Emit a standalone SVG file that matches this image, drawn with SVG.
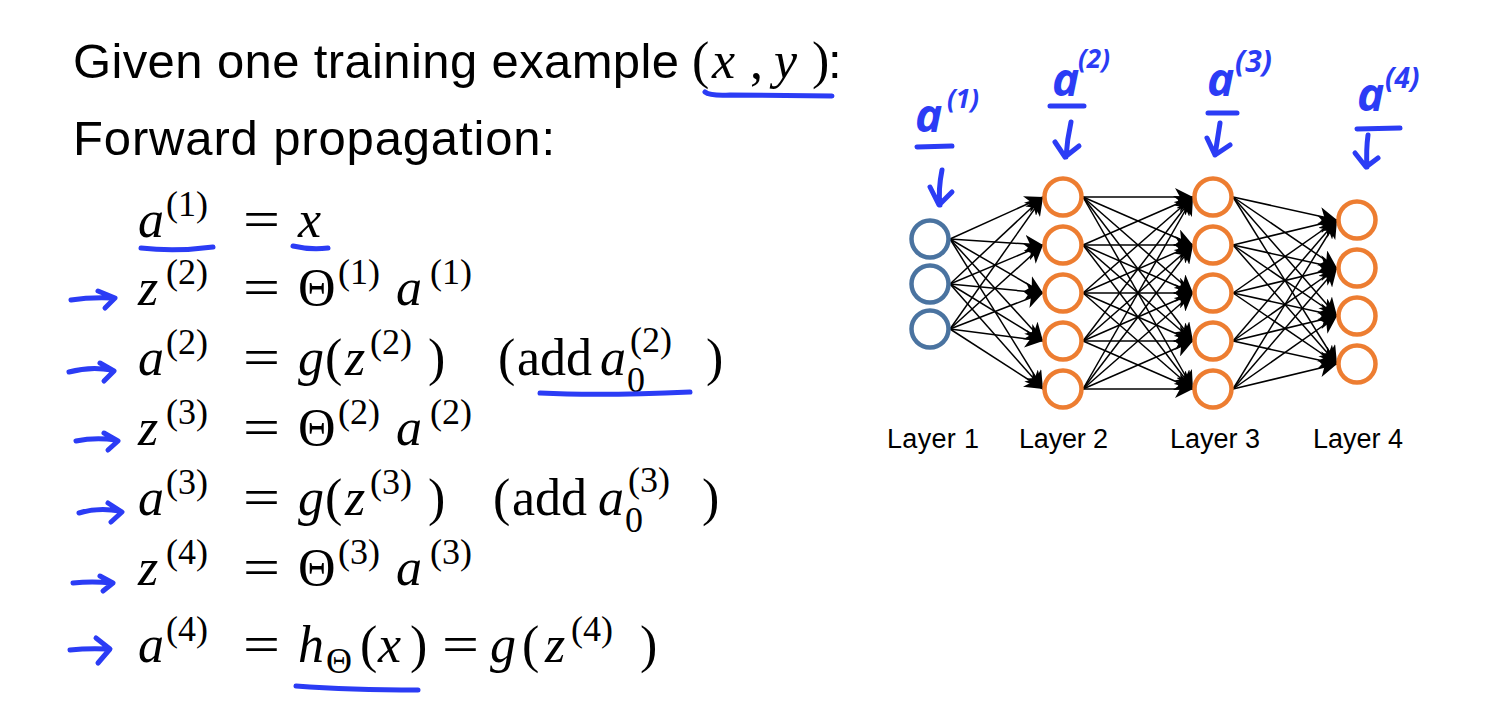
<svg xmlns="http://www.w3.org/2000/svg" width="1499" height="716" viewBox="0 0 1499 716">
<defs>
<style>
.t{font-family:"Liberation Sans",Arial,sans-serif;font-size:49px;fill:#000}
.lab{font-family:"Liberation Sans",Arial,sans-serif;font-size:27px;fill:#000}
.mi{font-family:"Liberation Serif","Times New Roman",serif;font-style:italic;font-size:52px;fill:#000}
.mr{font-family:"Liberation Serif","Times New Roman",serif;font-size:52px;fill:#000}
.sp{font-family:"Liberation Serif","Times New Roman",serif;font-size:36px;fill:#000}
.ink{fill:none;stroke:#2b3cf5;stroke-width:5;stroke-linecap:round;stroke-linejoin:round}
.hw{font-family:"Open Sans",sans-serif;font-style:italic;font-weight:bold;fill:#2b3cf5}
.in{fill:#fff;stroke:#4a73a0;stroke-width:4.5}
.hid{fill:#fff;stroke:#ed7d31;stroke-width:4.5}
.e{stroke:#000;stroke-width:1.5;marker-end:url(#ah)}
</style>
<marker id="ah" markerUnits="userSpaceOnUse" markerWidth="20" markerHeight="18" refX="18" refY="9" orient="auto">
<path d="M0,0 L18,9 L0,18 L5,9 Z" fill="#000"/>
</marker>
</defs>
<rect width="1499" height="716" fill="#fff"/>

<g id="title">
<text class="t" x="73" y="78" textLength="606">Given one training example</text>
<text class="mr" x="692" y="78">(</text>
<text class="mi" x="712" y="78">x</text>
<text class="mr" x="750" y="78">,</text>
<text class="mi" x="774" y="78">y</text>
<text class="mr" x="812" y="78">)</text>
<text class="t" x="828" y="78">:</text>
<path class="ink" d="M705,92 Q710,96 730,95 L832,96"/>
</g>
<g id="subtitle">
<text class="t" x="73" y="155" textLength="482">Forward propagation:</text>
</g>

<g id="equations">
<g id="eq1">
<text class="mi" x="138" y="237">a</text><text class="sp" x="166" y="216">(1)</text>
<text class="mr" x="243" y="237" textLength="37" lengthAdjust="spacingAndGlyphs">=</text>
<text class="mi" x="298" y="237">x</text>
<path class="ink" d="M141,248 Q175,252 213,247"/>
<path class="ink" d="M293,246 Q310,250 328,248"/>
</g>
<g id="eq2">
<path class="ink" d="M71,300 Q90,297 113,298 M98,291 L115,298 L105,308"/>
<text class="mi" x="138" y="305">z</text><text class="sp" x="166" y="284">(2)</text>
<text class="mr" x="243" y="305" textLength="37" lengthAdjust="spacingAndGlyphs">=</text>
<text class="mr" x="298" y="305">Θ</text><text class="sp" x="338" y="284">(1)</text>
<text class="mi" x="396" y="305">a</text><text class="sp" x="430" y="284">(1)</text>
</g>
<g id="eq3">
<path class="ink" d="M69,372 Q90,366 112,370 M100,363 L114,371 L104,381"/>
<text class="mi" x="138" y="375">a</text><text class="sp" x="166" y="354">(2)</text>
<text class="mr" x="243" y="375" textLength="37" lengthAdjust="spacingAndGlyphs">=</text>
<text class="mi" x="298" y="375">g</text><text class="mr" x="325" y="375">(</text>
<text class="mi" x="345" y="375">z</text><text class="sp" x="370" y="354">(2)</text>
<text class="mr" x="428" y="375">)</text>
<text class="mr" x="498" y="375">(</text><text class="mr" x="517" y="375">add</text>
<text class="mi" x="600" y="375">a</text><text class="sp" x="630" y="352">(2)</text><text class="sp" x="627" y="392">0</text>
<text class="mr" x="706" y="375">)</text>
<path class="ink" d="M540,393 Q600,396 690,392"/>
</g>
<g id="eq4">
<path class="ink" d="M76,441 Q95,437 116,440 M104,433 L118,441 L108,450"/>
<text class="mi" x="138" y="445">z</text><text class="sp" x="166" y="424">(3)</text>
<text class="mr" x="243" y="445" textLength="37" lengthAdjust="spacingAndGlyphs">=</text>
<text class="mr" x="298" y="445">Θ</text><text class="sp" x="338" y="424">(2)</text>
<text class="mi" x="396" y="445">a</text><text class="sp" x="430" y="424">(2)</text>
</g>
<g id="eq5">
<path class="ink" d="M79,513 Q98,507 120,511 M108,503 L122,512 L111,522"/>
<text class="mi" x="138" y="515">a</text><text class="sp" x="166" y="494">(3)</text>
<text class="mr" x="243" y="515" textLength="37" lengthAdjust="spacingAndGlyphs">=</text>
<text class="mi" x="298" y="515">g</text><text class="mr" x="325" y="515">(</text>
<text class="mi" x="345" y="515">z</text><text class="sp" x="370" y="494">(3)</text>
<text class="mr" x="428" y="515">)</text>
<text class="mr" x="493" y="515">(</text><text class="mr" x="512" y="515">add</text>
<text class="mi" x="598" y="515">a</text><text class="sp" x="628" y="492">(3)</text><text class="sp" x="625" y="532">0</text>
<text class="mr" x="702" y="515">)</text>
</g>
<g id="eq6">
<path class="ink" d="M73,583 Q92,581 112,583 M100,576 L113,583 L103,591"/>
<text class="mi" x="138" y="585">z</text><text class="sp" x="166" y="564">(4)</text>
<text class="mr" x="243" y="585" textLength="37" lengthAdjust="spacingAndGlyphs">=</text>
<text class="mr" x="298" y="585">Θ</text><text class="sp" x="338" y="564">(3)</text>
<text class="mi" x="396" y="585">a</text><text class="sp" x="430" y="564">(3)</text>
</g>
<g id="eq7">
<path class="ink" d="M70,650 Q88,648 108,649 M96,638 L110,649 L98,663"/>
<text class="mi" x="138" y="662">a</text><text class="sp" x="166" y="641">(4)</text>
<text class="mr" x="243" y="662" textLength="37" lengthAdjust="spacingAndGlyphs">=</text>
<text class="mi" x="298" y="662">h</text><text class="sp" x="326" y="673">Θ</text>
<text class="mr" x="360" y="662">(</text><text class="mi" x="378" y="662">x</text><text class="mr" x="410" y="662">)</text>
<text class="mr" x="442" y="662" textLength="37" lengthAdjust="spacingAndGlyphs">=</text>
<text class="mi" x="490" y="662">g</text><text class="mr" x="522" y="662">(</text>
<text class="mi" x="545" y="662">z</text><text class="sp" x="571" y="641">(4)</text>
<text class="mr" x="640" y="662">)</text>
<path class="ink" d="M296,686 Q350,690 418,690"/>
</g>
</g>

<g id="connectors">
<line class="e" x1="950" y1="239" x2="1043" y2="197"/><line class="e" x1="950" y1="239" x2="1043" y2="245"/><line class="e" x1="950" y1="239" x2="1043" y2="293"/><line class="e" x1="950" y1="239" x2="1043" y2="341"/><line class="e" x1="950" y1="239" x2="1043" y2="389"/>
<line class="e" x1="950" y1="284" x2="1043" y2="197"/><line class="e" x1="950" y1="284" x2="1043" y2="245"/><line class="e" x1="950" y1="284" x2="1043" y2="293"/><line class="e" x1="950" y1="284" x2="1043" y2="341"/><line class="e" x1="950" y1="284" x2="1043" y2="389"/>
<line class="e" x1="950" y1="329" x2="1043" y2="197"/><line class="e" x1="950" y1="329" x2="1043" y2="245"/><line class="e" x1="950" y1="329" x2="1043" y2="293"/><line class="e" x1="950" y1="329" x2="1043" y2="341"/><line class="e" x1="950" y1="329" x2="1043" y2="389"/>

<line class="e" x1="1083" y1="197" x2="1193" y2="197"/><line class="e" x1="1083" y1="197" x2="1193" y2="245"/><line class="e" x1="1083" y1="197" x2="1193" y2="293"/><line class="e" x1="1083" y1="197" x2="1193" y2="341"/><line class="e" x1="1083" y1="197" x2="1193" y2="389"/>
<line class="e" x1="1083" y1="245" x2="1193" y2="197"/><line class="e" x1="1083" y1="245" x2="1193" y2="245"/><line class="e" x1="1083" y1="245" x2="1193" y2="293"/><line class="e" x1="1083" y1="245" x2="1193" y2="341"/><line class="e" x1="1083" y1="245" x2="1193" y2="389"/>
<line class="e" x1="1083" y1="293" x2="1193" y2="197"/><line class="e" x1="1083" y1="293" x2="1193" y2="245"/><line class="e" x1="1083" y1="293" x2="1193" y2="293"/><line class="e" x1="1083" y1="293" x2="1193" y2="341"/><line class="e" x1="1083" y1="293" x2="1193" y2="389"/>
<line class="e" x1="1083" y1="341" x2="1193" y2="197"/><line class="e" x1="1083" y1="341" x2="1193" y2="245"/><line class="e" x1="1083" y1="341" x2="1193" y2="293"/><line class="e" x1="1083" y1="341" x2="1193" y2="341"/><line class="e" x1="1083" y1="341" x2="1193" y2="389"/>
<line class="e" x1="1083" y1="389" x2="1193" y2="197"/><line class="e" x1="1083" y1="389" x2="1193" y2="245"/><line class="e" x1="1083" y1="389" x2="1193" y2="293"/><line class="e" x1="1083" y1="389" x2="1193" y2="341"/><line class="e" x1="1083" y1="389" x2="1193" y2="389"/>

<line class="e" x1="1233" y1="197" x2="1337" y2="220"/><line class="e" x1="1233" y1="197" x2="1337" y2="268"/><line class="e" x1="1233" y1="197" x2="1337" y2="316"/><line class="e" x1="1233" y1="197" x2="1337" y2="364"/>
<line class="e" x1="1233" y1="245" x2="1337" y2="220"/><line class="e" x1="1233" y1="245" x2="1337" y2="268"/><line class="e" x1="1233" y1="245" x2="1337" y2="316"/><line class="e" x1="1233" y1="245" x2="1337" y2="364"/>
<line class="e" x1="1233" y1="293" x2="1337" y2="220"/><line class="e" x1="1233" y1="293" x2="1337" y2="268"/><line class="e" x1="1233" y1="293" x2="1337" y2="316"/><line class="e" x1="1233" y1="293" x2="1337" y2="364"/>
<line class="e" x1="1233" y1="341" x2="1337" y2="220"/><line class="e" x1="1233" y1="341" x2="1337" y2="268"/><line class="e" x1="1233" y1="341" x2="1337" y2="316"/><line class="e" x1="1233" y1="341" x2="1337" y2="364"/>
<line class="e" x1="1233" y1="389" x2="1337" y2="220"/><line class="e" x1="1233" y1="389" x2="1337" y2="268"/><line class="e" x1="1233" y1="389" x2="1337" y2="316"/><line class="e" x1="1233" y1="389" x2="1337" y2="364"/>
</g>

<g id="layer1">
<circle id="n1_1" class="in" cx="930" cy="239" r="18.5"/>
<circle id="n1_2" class="in" cx="930" cy="284" r="18.5"/>
<circle id="n1_3" class="in" cx="930" cy="329" r="18.5"/>
<text class="lab" x="887" y="448" textLength="92">Layer 1</text>
</g>
<g id="layer2">
<circle id="n2_1" class="hid" cx="1063" cy="197" r="18.5"/>
<circle id="n2_2" class="hid" cx="1063" cy="245" r="18.5"/>
<circle id="n2_3" class="hid" cx="1063" cy="293" r="18.5"/>
<circle id="n2_4" class="hid" cx="1063" cy="341" r="18.5"/>
<circle id="n2_5" class="hid" cx="1063" cy="389" r="18.5"/>
<text class="lab" x="1019" y="448" textLength="89">Layer 2</text>
</g>
<g id="layer3">
<circle id="n3_1" class="hid" cx="1213" cy="197" r="18.5"/>
<circle id="n3_2" class="hid" cx="1213" cy="245" r="18.5"/>
<circle id="n3_3" class="hid" cx="1213" cy="293" r="18.5"/>
<circle id="n3_4" class="hid" cx="1213" cy="341" r="18.5"/>
<circle id="n3_5" class="hid" cx="1213" cy="389" r="18.5"/>
<text class="lab" x="1170" y="448" textLength="90">Layer 3</text>
</g>
<g id="layer4">
<circle id="n4_1" class="hid" cx="1357" cy="220" r="18.5"/>
<circle id="n4_2" class="hid" cx="1357" cy="268" r="18.5"/>
<circle id="n4_3" class="hid" cx="1357" cy="316" r="18.5"/>
<circle id="n4_4" class="hid" cx="1357" cy="364" r="18.5"/>
<text class="lab" x="1313" y="448" textLength="90">Layer 4</text>
</g>

<g id="annotations">
<g id="ann1">
<text class="hw" x="915" y="132" font-size="46">a</text>
<text class="hw" x="947" y="108" font-size="26">(1)</text>
<path class="ink" d="M917,147 L952,146 M942,170 Q938,190 940,205 M930,187 L939,205 L952,192"/>
</g>
<g id="ann2">
<text class="hw" x="1052" y="96" font-size="46">a</text>
<text class="hw" x="1078" y="68" font-size="26">(2)</text>
<path class="ink" d="M1050,106 L1084,106 M1071,122 Q1067,140 1066,157 M1055,142 L1065,157 L1079,146"/>
</g>
<g id="ann3">
<text class="hw" x="1207" y="96" font-size="46">a</text>
<text class="hw" x="1235" y="72" font-size="30">(3)</text>
<path class="ink" d="M1208,113 L1237,113 M1220,123 L1215,155 M1207,138 L1215,155 L1230,145"/>
</g>
<g id="ann4">
<text class="hw" x="1357" y="111" font-size="46">a</text>
<text class="hw" x="1385" y="88" font-size="28">(4)</text>
<path class="ink" d="M1357,129 L1400,128 M1368,135 Q1366,150 1367,167 M1355,153 L1366,167 L1378,158"/>
</g>
</g>
</svg>
